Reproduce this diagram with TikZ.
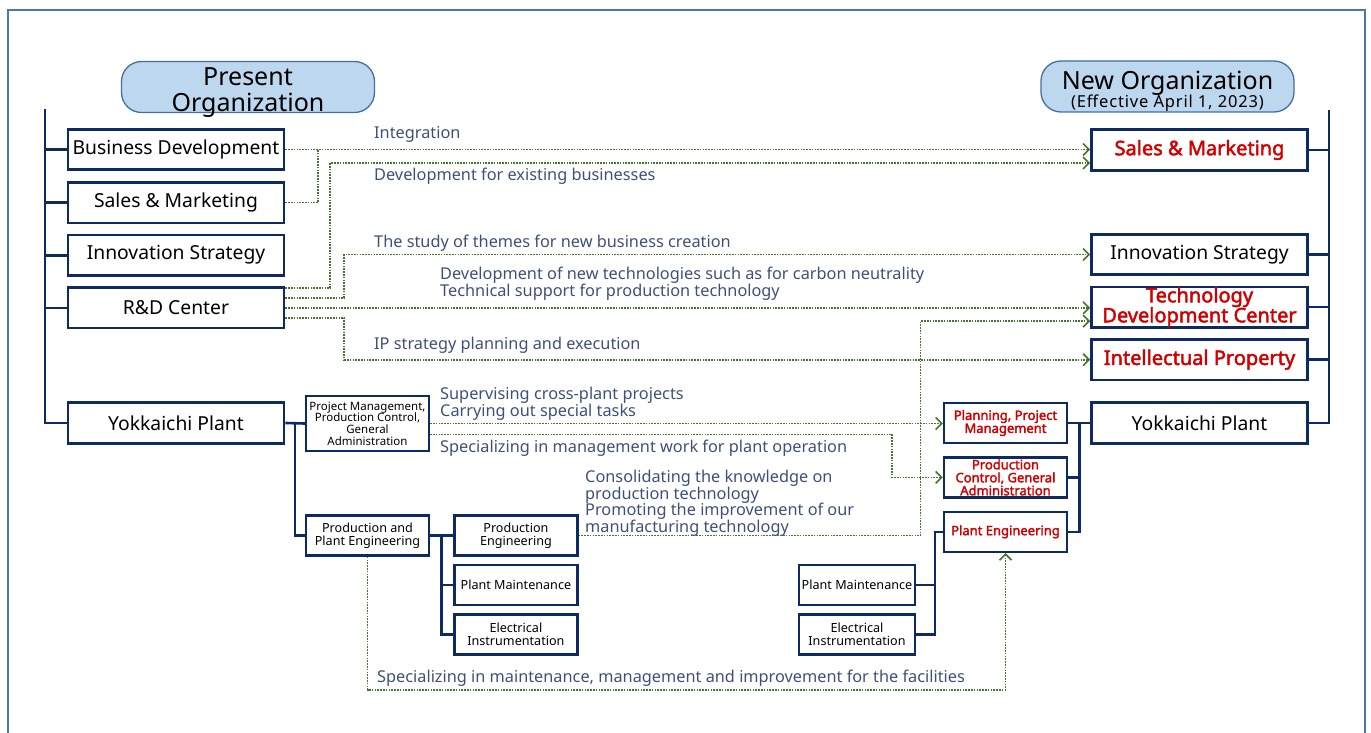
\documentclass[tikz,border=0pt]{standalone}
\usepackage{fontspec}
\setmainfont{Noto Sans}[AutoFakeBold=2.2]
\usetikzlibrary{positioning,arrows.meta,calc}
\definecolor{navy}{HTML}{0D2A63}
\definecolor{orgred}{HTML}{D00000}
\definecolor{flowgreen}{HTML}{45752A}
\definecolor{labelblue}{HTML}{3E5078}
\definecolor{frameblue}{HTML}{4A78AE}
\definecolor{titlefill}{HTML}{BDD7EE}
\definecolor{titleline}{HTML}{41719C}

\begin{document}
\begin{tikzpicture}[x=1pt, y=-1pt, node distance=9.5pt,
	orgbox/.style={rectangle, draw=navy, line width=2.6pt, fill=white, minimum width=216pt, minimum height=40.5pt, inner sep=1pt, align=center, font=\fontsize{19.3}{22}\selectfont},
	newbox/.style={orgbox, inner ysep=0pt, text=orgred, font=\fontsize{20}{20}\selectfont\bfseries},
	subbox/.style={rectangle, draw=navy, line width=2.4pt, fill=white, minimum width=123pt, minimum height=40pt, inner sep=1pt, align=center, font=\fontsize{12.6}{13.5}\selectfont},
	newsub/.style={subbox, inner ysep=0pt, text=orgred, font=\fontsize{13}{13}\selectfont\bfseries},
	title/.style={rectangle, rounded corners=20pt, draw=titleline, fill=titlefill, line width=1.3pt, minimum width=253pt, minimum height=51pt, inner sep=0pt},
	titletext/.style={align=center, inner sep=0pt, font=\fontsize{25}{26}\selectfont},
	tree/.style={draw=navy, line width=2.6pt},
	flow/.style={draw=flowgreen, line width=1.7pt, dash pattern=on 1.6pt off 1.2pt, -{Straight Barb[length=6pt, width=12pt, line width=1.6pt]}},
	flowline/.style={flow, -},
	note/.style={text=labelblue, inner sep=0pt, align=left, font=\fontsize{16.3}{16.5}\selectfont}]

	\clip (0,0) rectangle (1371,733);
	\draw[frameblue, line width=2.5pt] (8,10) rectangle (1365,760);

	% headings
	\node[title] (present) at (248,87) {};
	\node[titletext] (presentlbl) at (248,92.5) {Present\\Organization};
	\node[title] (neworg) at (1167.5,86.5) {};
	\node[titletext] (neworglbl) at (1167.5,91) {New Organization\\[-8pt]{\fontsize{16.5}{17}\selectfont\addfontfeature{LetterSpace=5}(Effective April 1, 2023)}};

	% present organization
	\node[orgbox] (lbd) at (176,149.5)          {Business Development};
	\node[orgbox] (lsm) [below=10pt of lbd]      {Sales \& Marketing};
	\node[orgbox] (lis) [below=of lsm]           {Innovation Strategy};
	\node[orgbox] (lrd) [below=of lis]           {R\&D Center};
	\node[orgbox] (lyk) at (176,423)             {Yokkaichi Plant};

	\node[subbox, minimum height=55pt, inner ysep=0pt, font=\fontsize{11.5}{11.7}\selectfont] (pm) at (367.5,423.5) {Project Management,\\Production Control,\\General\\Administration};
	\node[subbox] (ppe) at (367.5,535.5)         {Production and\\Plant Engineering};
	\node[subbox] (pe)  [right=23pt of ppe]      {Production\\Engineering};
	\node[subbox] (pmn) [below=7pt of pe]        {Plant Maintenance};
	\node[subbox] (ei)  [below=7pt of pmn]       {Electrical\\Instrumentation};

	% new organization
	\node[newbox] (rsm) at (1199.5,150)          {Sales \& Marketing};
	\node[orgbox] (ris) at (1199.5,254.5)        {Innovation Strategy};
	\node[newbox] (rtd) [below=of ris]           {Technology\\Development Center};
	\node[newbox] (rip) [below=of rtd]           {Intellectual Property};
	\node[orgbox] (ryk) at (1199.5,423)          {Yokkaichi Plant};

	\node[newsub] (plan) at (1005.5,423)         {Planning, Project\\Management};
	\node[newsub] (pcga) [below=12pt of plan]    {Production\\Control, General\\Administration};
	\node[newsub] (peng) [below=12pt of pcga]    {Plant Engineering};
	\node[subbox, minimum width=116pt] (rpm) at (857,585)  {Plant Maintenance};
	\node[subbox, minimum width=116pt] (rei) [below=7pt of rpm] {Electrical\\Instrumentation};

	% tree lines
	\coordinate (ltop) at (45,109);
	\draw[tree] (ltop) |- (lyk.west);
	\foreach \n in {lbd,lsm,lis,lrd}
		\draw[tree] (\n.west) -- (\n.west -| ltop);
	\coordinate (rtop) at (1329,110);
	\draw[tree] (rtop) |- (ryk.east);
	\foreach \n in {rsm,ris,rtd,rip}
		\draw[tree] (\n.east) -- (\n.east -| rtop);

	\draw[tree] (lyk.east) -- (pm.west);
	\coordinate (lsplit) at ($(lyk.east)!0.5!(pm.west)$);
	\draw[tree] (lsplit) |- (ppe.west);
	\draw[tree] (ppe.east) -- (pe.west);
	\coordinate (psplit) at ($(ppe.east)!0.5!(pe.west)$);
	\draw[tree] (psplit) |- (ei.west);
	\draw[tree] (psplit |- pmn.west) -- (pmn.west);

	\draw[tree] (ryk.west) -- (plan.east);
	\coordinate (rsplit) at ($(plan.east)!0.5!(ryk.west)$);
	\draw[tree] (rsplit) |- (peng.east);
	\draw[tree] (rsplit |- pcga.east) -- (pcga.east);
	\coordinate (esplit) at ($(peng.west)+(-8,0)$);
	\draw[tree] (peng.west) -- (esplit) |- (rei.east);
	\draw[tree] (esplit |- rpm.east) -- (rpm.east);

	% transfers
	\draw[flow] (lbd.east) -- (lbd.east -| rsm.west);
	\draw[flowline] (lsm.east) -| ($(lbd.east)+(33,0)$);
	\draw[flow] ([yshift=20pt]lrd.east) -- ++(45,0) |- ([yshift=-13pt]rsm.west);
	\draw[flow] ([yshift=10pt]lrd.east) -- ++(59,0) |- (ris.west);
	\draw[flow] (lrd.east) -- (lrd.east -| rtd.west);
	\draw[flow] ([yshift=-10pt]lrd.east) -- ++(59,0) |- (rip.west);
	\draw[flow] (pm.east) -- (pm.east -| plan.west);
	\draw[flow] ([yshift=-11pt]pm.east) -- ++(462,0) |- (pcga.west);
	\draw[flow] (pe.east) -- ++(342,0) |- ([yshift=-14pt]rtd.west);
	\draw[flow] (ppe.south) -- ++(0,133) -| (peng.south);

	\node[note, anchor=base west] (tint)   at (374,139) {Integration};
	\node[note, anchor=base west] (texist) at (374,181) {Development for existing businesses};
	\node[note, anchor=base west] (tstudy) at (374,247) {The study of themes for new business creation};
	\node[note, anchor=north west] (ttech) at (440,267) {Development of new technologies such as for carbon neutrality\\Technical support for production technology};
	\node[note, anchor=base west] (tip)    at (374,349) {IP strategy planning and execution};
	\node[note, anchor=north west] (tsup)  at (440,387) {Supervising cross-plant projects\\Carrying out special tasks};
	\node[note, anchor=base west] (tmgmt)  at (440,452) {Specializing in management work for plant operation};
	\node[note, anchor=north west] (tknow) at (585,470) {Consolidating the knowledge on\\production technology\\Promoting the improvement of our\\manufacturing technology};
	\node[note, anchor=base west] (tmaint) at (377,682) {Specializing in maintenance, management and improvement for the facilities};

\end{tikzpicture}
\end{document}
